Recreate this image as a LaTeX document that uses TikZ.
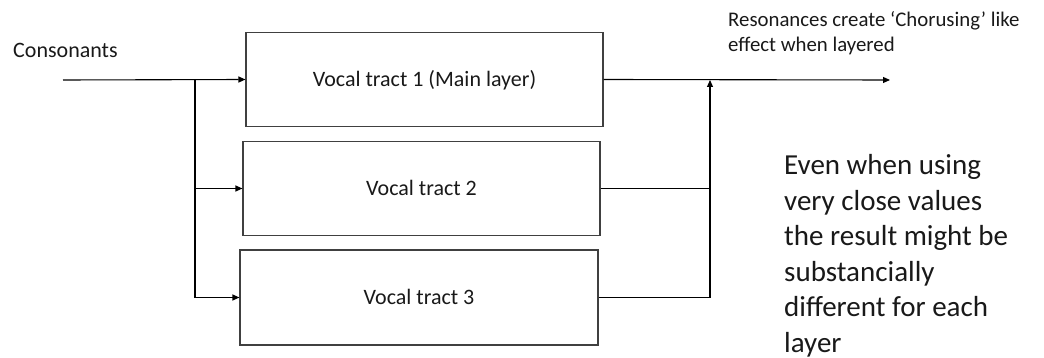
\documentclass[tikz,border=0pt]{standalone}
\usepackage{fontspec}
\setmainfont{Carlito}
\usetikzlibrary{arrows.meta}
\begin{document}
\begin{tikzpicture}[x=1pt,y=-1pt,
  tract/.style={draw=black!75, line width=1.1pt, inner sep=0pt,
    minimum width=357pt, minimum height=94pt,
    text height=14pt, text depth=0pt, font=\fontsize{22}{26}\selectfont, text=black!90},
  wire/.style={draw=black, line width=1.1pt},
  feed/.style={wire, -{Triangle[length=7pt,width=6pt]}},
  note/.style={inner sep=0pt, text=black!90, align=left}]
\useasboundingbox (0,0) rectangle (1044,358);

% the three parallel vocal tract layers
\node[tract] (vt1) at (424.5,79.5) {Vocal tract 1 (Main layer)};
\node[tract] (vt2) at (421.5,188.5) {Vocal tract 2};
\node[tract, minimum width=358pt, minimum height=95pt] (vt3) at (419,297.5) {Vocal tract 3};

% input, split point, merge point and output
\coordinate (in) at (63,80);
\coordinate (split) at (195,80);
\coordinate (merge) at (710,80);
\coordinate (out) at (890,80);

\draw[feed] (in) -- (vt1.west);
\draw[feed] (split) |- (vt2.west);
\draw[feed] (split) |- (vt3.west);
\draw[feed] (vt1.east) -- (out);
\draw[wire] (vt2.east) -- (vt2.east -| merge);
\draw[feed] (vt3.east) -| (merge);

% annotations (base anchor of a multi-line node sits on its last line)
\node[note, anchor=base west, font=\fontsize{22}{26}\selectfont] (cons) at (13,58) {Consonants};
\node[note, anchor=base west, font=\fontsize{20.8}{25}\selectfont] (reso) at (728,52)
  {Resonances create ‘Chorusing’ like\\effect when layered};
\node[note, anchor=base west, font=\fontsize{29}{35.5}\selectfont] (even) at (784,352)
  {Even when using\\very close values\\the result might be\\substancially\\different for each\\layer};
\end{tikzpicture}
\end{document}
